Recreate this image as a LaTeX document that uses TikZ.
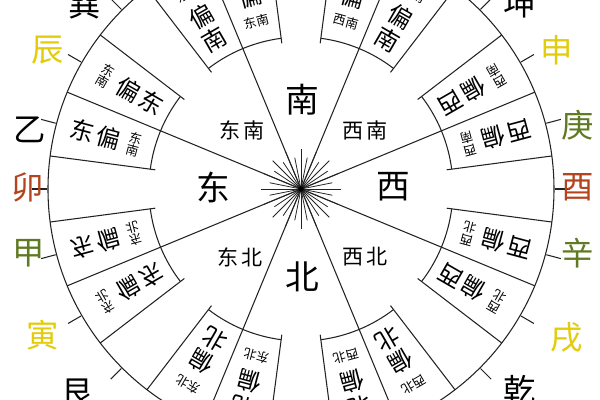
\documentclass[tikz,border=0pt]{standalone}
\usepackage{fontspec}
\usepackage{tikz}
\usetikzlibrary{calc}
\newfontfamily\cjk{Noto Sans CJK SC}
\definecolor{earthyellow}{HTML}{E2CC0C}
\definecolor{woodgreen}{HTML}{5F7A22}
\definecolor{firered}{HTML}{B4441E}
\definecolor{inkline}{HTML}{222222}

\begin{document}
\begin{tikzpicture}[x=0.025cm, y=0.025cm,
    ring/.style={draw=inkline, line width=0.75pt},
    ray/.style={draw=inkline, line width=0.55pt},
    dirlabel/.style={font=\cjk\fontsize{24}{24}\selectfont, inner sep=0pt},
    midlabel/.style={font=\cjk\fontsize{15}{15}\selectfont, inner sep=0pt},
    mountain/.style={font=\cjk\fontsize{23}{23}\selectfont, inner sep=0pt},
    bigchar/.style={font=\cjk\fontsize{17}{17}\selectfont, inner sep=0pt},
    smallchar/.style={font=\cjk\fontsize{9}{9}\selectfont, inner sep=0pt}]

    % Cut-out of the chart
    \useasboundingbox (-301,-211) rectangle (299,189);
    \clip (-301,-211) rectangle (299,189);

    % Outer circle
    \draw[ring] (0,0) circle (253);

    % Spokes and boxes
    \foreach \s in {22.5,67.5,...,337.5} {
        \draw[ring] (0,0) -- (\s:253);
        \draw[ring] ({\s-15}:147) -- ({\s-15}:253);
        \draw[ring] ({\s+15}:147) -- ({\s+15}:253);
        \draw[ring] ({\s-15}:152) arc[start angle=\s-15, end angle=\s+15, radius=152];
    }

    % Star in the middle
    \foreach \a in {0,22.5,...,337.5}
        \draw[ray] (0,0) -- (\a:40);
    \foreach \a in {11.25,33.75,...,348.75}
        \draw[ray] (0,0) -- (\a:32);
    \node[circle, fill=black, inner sep=0pt, minimum size=4pt] (hub) at (0,0) {};

    % Directions
    \node[dirlabel] (south) at (1,89) {南};
    \node[dirlabel] (east) at (-88,2) {东};
    \node[dirlabel] (west) at (92,2) {西};
    \node[dirlabel] (north) at (1,-88) {北};
    \node[midlabel] (southeast) at (-59,59) {东\,南};
    \node[midlabel] (southwest) at (64,59) {西\,南};
    \node[midlabel] (northeast) at (-61,-68) {东\,北};
    \node[midlabel] (northwest) at (64,-68) {西\,北};

    % Mountains round the rim
    \foreach \a/\p/\c/\t [count=\i] in {
        135/{-216,184}/black/巽, 150/{-253,139}/earthyellow/辰,
        165/{-271,59}/black/乙, 180/{-273,2}/firered/卯,
        195/{-272,-64}/woodgreen/甲, 210/{-258,-146}/earthyellow/寅,
        225/{-223,-204}/black/艮, 45/{219,186}/black/坤,
        30/{256,139}/earthyellow/申, 15/{277,64}/woodgreen/庚,
        0/{277,2}/firered/酉, -15/{277,-64}/woodgreen/辛,
        -30/{266,-148}/earthyellow/戌, -45/{219,-201}/black/乾} {
        \draw[ring] (\a:254) -- (\a:269);
        \node[mountain, text=\c] (m\i) at (\p) {\t};
    }

    % Box texts
    \foreach \t/\r/\f/\o/\B/\P/\Q/\q [count=\i] in {
        165/-15/1/1/东/东/南/75, 150/-30/1/-1/东/东/南/60,
        120/30/1/-1/南/东/南/210, 105/15/1/1/南/东/南/195,
        75/-15/1/1/南/西/南/165, 60/-30/1/-1/南/西/南/150,
        30/210/1/-1/西/西/南/300, 15/195/1/1/西/西/南/285,
        195/15/-1/1/东/东/北/-75, 210/30/-1/-1/东/东/北/-60,
        240/150/1/-1/北/东/北/330, 255/165/1/1/北/东/北/345,
        -15/165/1/1/西/西/北/255, -30/150/1/-1/西/西/北/240,
        -60/210/1/-1/北/西/北/30, -75/195/1/1/北/西/北/15} {
        \node[bigchar, rotate=\r, yscale=\f] (b\i-big) at (\t:{199.5+26.5*\o}) {\B};
        \node[bigchar, rotate=\r, yscale=\f] (b\i-pian) at (\t:199) {偏};
        \coordinate (b\i-pair) at (\t:{199.5-26.5*\o});
        \node[smallchar, rotate=\r, yscale=\f] (b\i-p) at ($(b\i-pair)+(\q:6.5)$) {\P};
        \node[smallchar, rotate=\r, yscale=\f] (b\i-q) at ($(b\i-pair)+(\q:-6.5)$) {\Q};
    }
\end{tikzpicture}
\end{document}
